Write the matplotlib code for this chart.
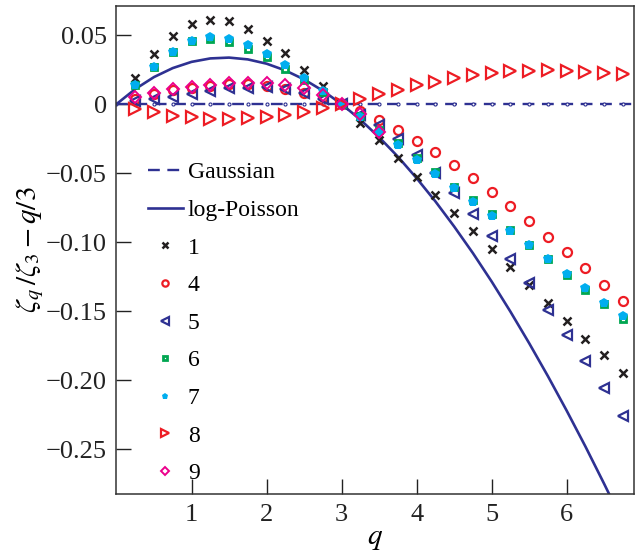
import matplotlib
matplotlib.use('Agg')
import matplotlib.pyplot as plt

plt.rcParams['font.family'] = ['Liberation Serif', 'DejaVu Serif']
plt.rcParams['mathtext.fontset'] = 'stix'

# q positions of the measured points
q = [0.25, 0.5, 0.75, 1.0, 1.25, 1.5, 1.75, 2.0, 2.25, 2.5, 2.75, 3.0, 3.25, 3.5,
     3.75, 4.0, 4.25, 4.5, 4.75, 5.0, 5.25, 5.5, 5.75, 6.0, 6.25, 6.5, 6.75]
q9 = q[:14]

s1 = [0.019, 0.036, 0.049, 0.058, 0.061, 0.060, 0.0546, 0.046, 0.0367, 0.0249, 0.013, 0.0,
      -0.014, -0.026, -0.039, -0.053, -0.066, -0.079, -0.092, -0.105, -0.118, -0.131,
      -0.144, -0.157, -0.170, -0.182, -0.195]
s4 = [0.004, 0.007, 0.010, 0.012, 0.013, 0.0145, 0.0143, 0.0133, 0.0106, 0.008, 0.005, 0.0,
      -0.0048, -0.0116, -0.019, -0.0268, -0.035, -0.044, -0.0534, -0.0635, -0.074, -0.085,
      -0.096, -0.107, -0.119, -0.131, -0.143]
s5 = [0.002, 0.0034, 0.0053, 0.0072, 0.0096, 0.0114, 0.012, 0.0125, 0.011, 0.008, 0.004, 0.0,
      -0.008, -0.015, -0.0256, -0.037, -0.050, -0.0647, -0.080, -0.0957, -0.1126, -0.130,
      -0.149, -0.167, -0.186, -0.206, -0.226]
s6 = [0.0138, 0.0266, 0.0379, 0.0457, 0.047, 0.045, 0.040, 0.0338, 0.0254, 0.0174, 0.0089, 0.0,
      -0.0087, -0.019, -0.0285, -0.039, -0.049, -0.060, -0.0696, -0.080, -0.091, -0.102,
      -0.1126, -0.1235, -0.135, -0.145, -0.156]
s7 = [0.0138, 0.0266, 0.0379, 0.0457, 0.0483, 0.0469, 0.0428, 0.0362, 0.028, 0.0186, 0.0096, 0.0,
      -0.0096, -0.020, -0.0297, -0.0406, -0.051, -0.061, -0.0708, -0.081, -0.0918, -0.102,
      -0.1126, -0.123, -0.1336, -0.144, -0.1536]
s8 = [-0.0036, -0.006, -0.0087, -0.0096, -0.0109, -0.011, -0.0104, -0.0096, -0.008, -0.006, -0.003, 0.0,
      0.0034, 0.0072, 0.010, 0.0138, 0.016, 0.0186, 0.021, 0.0227, 0.0239, 0.0241,
      0.0246, 0.0241, 0.0234, 0.0227, 0.0215]
s9 = [0.0048, 0.0077, 0.0106, 0.0125, 0.0138, 0.015, 0.0155, 0.015, 0.0138, 0.012, 0.0065, 0.0,
      -0.0072, -0.020]

# model curves
q_lp = [0.0, 0.25, 0.5, 0.75, 1.0, 1.25, 1.5, 1.75, 2.0, 2.25, 2.5, 2.75, 3.0, 3.25, 3.5,
        3.75, 4.0, 4.25, 4.5, 4.75, 5.0, 5.25, 5.5, 5.75, 6.0, 6.25, 6.5, 6.75]
logpoisson = [0.0, 0.0109, 0.0196, 0.0261, 0.0306, 0.0331, 0.0337, 0.0324, 0.0293, 0.0244,
              0.0179, 0.0097, 0.0, -0.0113, -0.0240, -0.0381, -0.0537, -0.0705, -0.0887,
              -0.1080, -0.1286, -0.1504, -0.1733, -0.1972, -0.2222, -0.2482, -0.2753, -0.3032]
gauss = [0.0] * len(q_lp)

navy = '#2e3192'

fig = plt.figure(figsize=(6.4, 5.57), dpi=100)
ax = fig.add_axes([0.182, 0.113, 0.809, 0.876])

ax.axhline(0, color=navy, lw=1.7, dashes=(5, 3.2), label='Gaussian')
ax.plot(q_lp, gauss, 'o', color=navy, ms=2.2, mfc='white', mew=0.8)
ax.plot(q_lp, logpoisson, '-', color=navy, lw=1.9, label='log-Poisson')

ax.plot(q, s1, 'x', color='#231f20', ms=6, mew=1.8, label='1')
ax.plot(q, s4, 'o', color='#ed1c24', ms=6.5, mfc='none', mew=1.6, label='4')
ax.plot(q, s5, '<', color=navy, ms=7.5, mfc='none', mew=1.6, label='5')
ax.plot(q, s6, 's', color='#00a651', ms=5, mfc='white', mew=2.0, label='6')
ax.plot(q, s7, 'p', color='#00aeef', ms=7, mew=0, label='7')
ax.plot(q, s8, '>', color='#ed1c24', ms=9, mfc='none', mew=1.6, label='8')
ax.plot(q9, s9, 'D', color='#ec008c', ms=6.5, mfc='none', mew=1.4, label='9')

ax.set_xlim(0, 6.9)
ax.set_ylim(-0.2826, 0.071)
ax.set_xticks([1, 2, 3, 4, 5, 6])
ax.set_yticks([0.05, 0, -0.05, -0.10, -0.15, -0.20, -0.25])
ax.set_yticklabels(['0.05', '0', '\u22120.05', '\u22120.10', '\u22120.15', '\u22120.20', '\u22120.25'])
ax.tick_params(direction='in', length=11, width=1, labelsize=19, colors='#222222', pad=7)
for sp in ax.spines.values():
    sp.set_color('#333333')
    sp.set_linewidth(1.1)

ax.set_xlabel(r'$q$', fontsize=21, labelpad=0)
ax.set_ylabel(r'$\zeta_q\,/\zeta_3 - q/3$', fontsize=21, labelpad=0)

leg = ax.legend(loc='upper left', bbox_to_anchor=(0.042, 0.70), frameon=False, fontsize=17,
                handlelength=1.5, handletextpad=0.2, labelspacing=0.68, markerscale=0.7,
                borderaxespad=0)

fig.savefig('out.png', dpi=100)
